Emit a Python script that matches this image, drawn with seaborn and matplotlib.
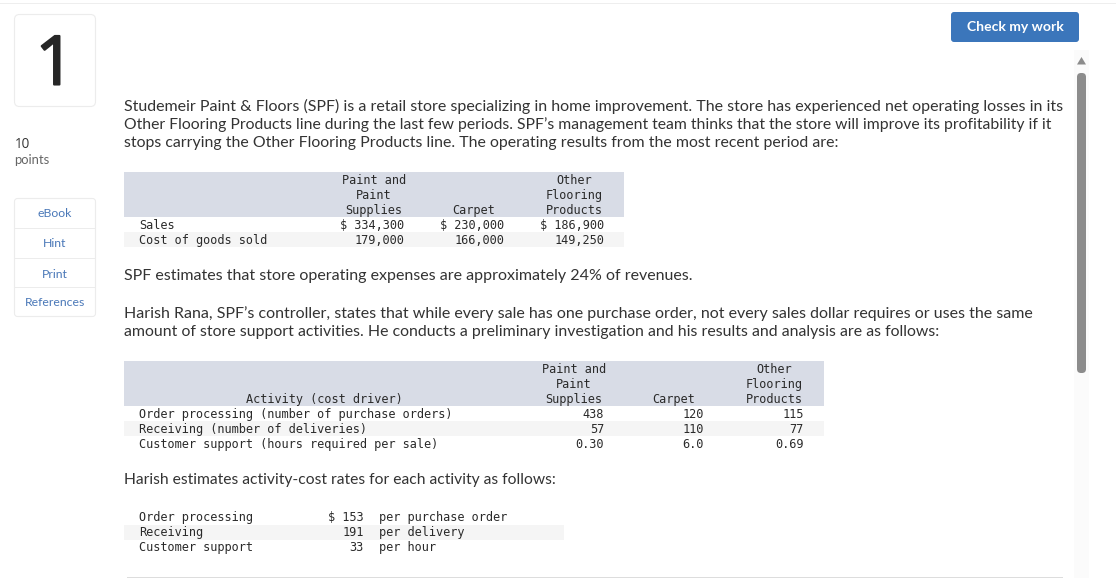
import matplotlib
matplotlib.use("Agg")
import matplotlib.pyplot as plt
import matplotlib.patheffects as pe
from matplotlib.patches import FancyBboxPatch, Polygon, Rectangle
import seaborn as sns

# --- Page text ---
QUESTION_NO = "1"
POINTS = "10"
POINTS_LABEL = "points"
SIDE_LINKS = ["eBook", "Hint", "Print", "References"]
BUTTON_LABEL = "Check my work"

INTRO = [
    "Studemeir Paint & Floors (SPF) is a retail store specializing in home improvement. The store has experienced net operating losses in its",
    "Other Flooring Products line during the last few periods. SPF\u2019s management team thinks that the store will improve its profitability if it",
    "stops carrying the Other Flooring Products line. The operating results from the most recent period are:",
]
ESTIMATE = "SPF estimates that store operating expenses are approximately 24% of revenues."
HARISH = [
    "Harish Rana, SPF\u2019s controller, states that while every sale has one purchase order, not every sales dollar requires or uses the same",
    "amount of store support activities. He conducts a preliminary investigation and his results and analysis are as follows:",
]
RATES_INTRO = "Harish estimates activity-cost rates for each activity as follows:"

# --- Table data ---
HEADERS = [["Paint and", "Paint", "Supplies"], ["", "", "Carpet"], ["Other", "Flooring", "Products"]]

RESULT_LABELS = ["Sales", "Cost of goods sold"]
PAINT_RESULTS = ["$ 334,300", "179,000"]
CARPET_RESULTS = ["$ 230,000", "166,000"]
OTHER_RESULTS = ["$ 186,900", "149,250"]

ACTIVITY_HEAD = "Activity (cost driver)"
ACTIVITY_LABELS = [
    "Order processing (number of purchase orders)",
    "Receiving (number of deliveries)",
    "Customer support (hours required per sale)",
]
PAINT_ACTIVITY = ["438", "57", "0.30"]
CARPET_ACTIVITY = ["120", "110", "6.0"]
OTHER_ACTIVITY = ["115", "77", "0.69"]

RATE_LABELS = ["Order processing", "Receiving", "Customer support"]
RATE_VALUES = ["$ 153", "191", "33"]
RATE_UNITS = ["per purchase order", "per delivery", "per hour"]

SANS = "Lato"
DIGITS = "Open Sans"
MONO = "DejaVu Sans Mono"
INK = "#333333"
MONO_INK = "#2a2a2a"
HEAD_BG = "#d8dce6"
ROW_BG = "#f5f5f5"
LINE = "#ececec"
LINK = "#4a78b8"

sns.set_theme(style="white")
fig = plt.figure(figsize=(11.16, 5.78), dpi=100, facecolor="white")
ax = fig.add_axes([0, 0, 1, 1])
ax.set_xlim(0, 1116)
ax.set_ylim(578, 0)
ax.axis("off")
sns.despine(ax=ax, left=True, bottom=True)


def px(size):
    return size * 72 / 100


def sans(x, y, s, size=15.9, color=INK, family=SANS, **kw):
    return ax.text(x, y, s, fontsize=px(size), family=family, color=color, va="baseline", **kw)


def fitted(x0, x1, y, s):
    # the page font is not installed, so scale each line to end where the original does
    t = sans(x0, y, s)
    width = t.get_window_extent(fig.canvas.get_renderer()).width
    t.set_fontsize(t.get_fontsize() * (x1 - x0) / width)


def mono(x, y, s, ha="left"):
    ax.text(x, y, s, fontsize=px(11.86), family=MONO, color=MONO_INK, va="baseline", ha=ha)


def band(x0, x1, y0, y1, color):
    ax.add_patch(Rectangle((x0, y0), x1 - x0, y1 - y0, fc=color, ec="none"))


def rounded(x0, x1, y0, y1, fc, ec, r=3):
    ax.add_patch(FancyBboxPatch((x0 + r, y0 + r), x1 - x0 - 2 * r, y1 - y0 - 2 * r,
                                boxstyle=f"round,pad={r},rounding_size={r}",
                                fc=fc, ec=ec, lw=0.8))


def value_columns(columns, ends, first_base):
    for col, end in zip(columns, ends):
        for i, val in enumerate(col):
            mono(end, first_base + i * 15, val, ha="right")


def header_columns(centers, first_base):
    for head, center in zip(HEADERS, centers):
        for i, line in enumerate(head):
            if line:
                mono(center, first_base + i * 15, line, ha="center")


# top edge of the page
band(0, 1116, 2.5, 3.5, "#eeeeee")

# question number box, stroke thickens the digit to the original weight
rounded(14.5, 95.5, 14.5, 106.5, "white", LINE, r=5)
num = sans(55, 84.5, QUESTION_NO, size=68, color="#262626", family=DIGITS, ha="center")
num.set_path_effects([pe.withStroke(linewidth=1.5, foreground="#262626")])
sans(15, 148, POINTS, size=13.5, color="#333333", family=DIGITS)
sans(14, 164, POINTS_LABEL, size=13, color="#666666")

# side links
rounded(14.5, 95.5, 198.5, 316.5, "white", LINE)
for y in [228, 258, 287]:
    band(14, 96, y - 0.5, y + 0.5, LINE)
for label, base in zip(SIDE_LINKS, [217, 247, 278, 306]):
    sans(55, base, label, size=12.2, color=LINK, ha="center")

# button
rounded(951, 1079, 12, 42, "#3b76bb", "none")
sans(1015, 31, BUTTON_LABEL, size=14, color="white", ha="center", weight="bold")

# scrollbar
band(1074, 1089, 50, 578, "#fbfbfb")
ax.add_patch(Polygon([(1081.5, 57), (1077, 64.5), (1086, 64.5)], fc="#8c8c8c", ec="none"))
rounded(1077, 1086, 73, 373, "#8c8c8c", "none", r=4)

# body text
fig.canvas.draw()
for line, base, end in zip(INTRO, [111, 129, 147], [1063, 1049, 835]):
    fitted(124, end, base, line)
fitted(124, 691, 280, ESTIMATE)
for line, base, end in zip(HARISH, [318, 336], [1032, 940]):
    fitted(124, end, base, line)
fitted(124, 557, 484, RATES_INTRO)

# first table
band(124, 624, 172, 217, HEAD_BG)
band(124, 624, 232, 247, ROW_BG)
header_columns([374, 474, 574], 184)
for i, label in enumerate(RESULT_LABELS):
    mono(139, 229 + i * 15, label)
value_columns([PAINT_RESULTS, CARPET_RESULTS, OTHER_RESULTS], [404, 504, 604], 229)

# second table
band(124, 824, 361, 406, HEAD_BG)
band(124, 824, 421, 436, ROW_BG)
header_columns([574, 674, 774], 373)
mono(324, 403, ACTIVITY_HEAD, ha="center")
for i, label in enumerate(ACTIVITY_LABELS):
    mono(139, 418 + i * 15, label)
value_columns([PAINT_ACTIVITY, CARPET_ACTIVITY, OTHER_ACTIVITY], [604, 704, 804], 418)

# rates table
band(124, 564, 525, 540, ROW_BG)
for i, (label, val, unit) in enumerate(zip(RATE_LABELS, RATE_VALUES, RATE_UNITS)):
    base = 521 + i * 15
    mono(139, base, label)
    mono(364, base, val, ha="right")
    mono(379, base, unit)

band(127, 1063, 576.5, 577.5, "#dddddd")

fig.savefig("out.png", dpi=100, facecolor="white")
